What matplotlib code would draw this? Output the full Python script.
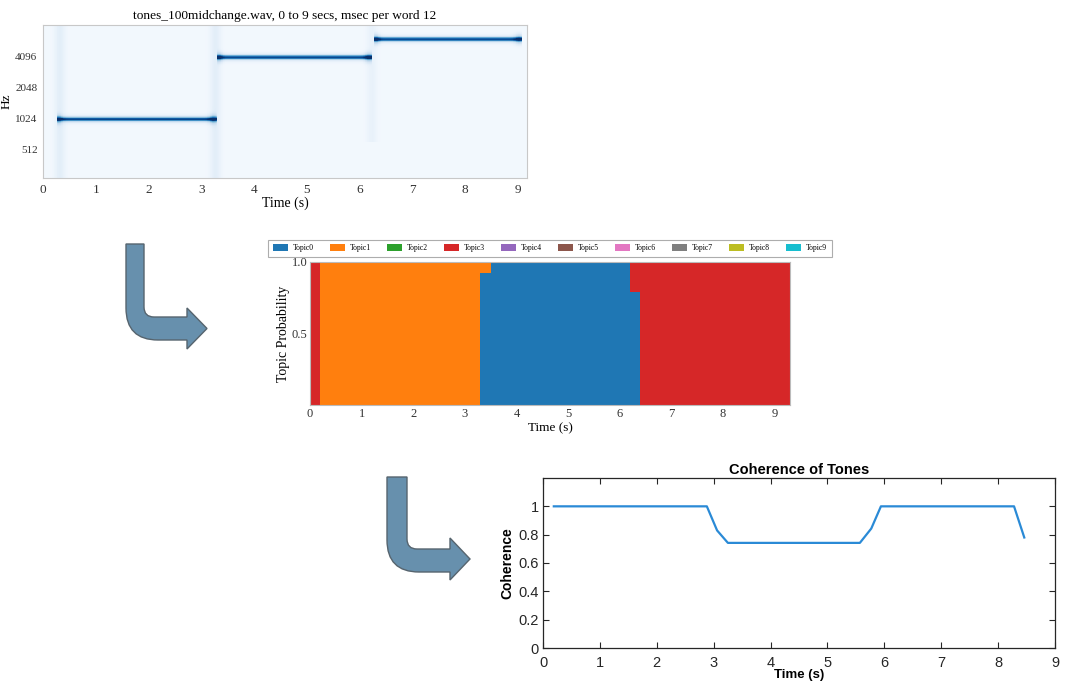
import numpy as np
import matplotlib
matplotlib.use("Agg")
from matplotlib import pyplot as plt
from matplotlib.path import Path
from matplotlib.patches import PathPatch

# ---- spectrogram tones (start s, end s, freq Hz) ----
tone_start = [0.25, 3.30, 6.28]
tone_end = [3.30, 6.25, 9.10]
tone_freq = [1000, 4000, 6000]
# broadband onset smears (time s, lowest freq Hz, strength)
onset_time = [0.32, 3.27, 6.24]
onset_fmin = [270, 270, 600]
onset_level = [0.08, 0.08, 0.05]
spec_yticks = [512, 1024, 2048, 4096]

# ---- topic model output (segment edges, probability per segment) ----
topic_names = ["Topic%d" % i for i in range(10)]
seg_edges = [0.0, 0.2, 3.3, 3.5, 6.2, 6.4, 9.3]
topic_probs = {
    0: [0.0, 0.0, 0.92, 1.0, 0.79, 0.0],
    1: [0.0, 1.0, 0.08, 0.0, 0.0, 0.0],
    3: [1.0, 0.0, 0.0, 0.0, 0.21, 1.0],
}

# ---- coherence curve ----
coh_time = [0.19, 2.88, 3.06, 3.25, 5.57, 5.77, 5.94, 8.28, 8.46]
coh_value = [1.0, 1.0, 0.83, 0.742, 0.742, 0.843, 1.0, 1.0, 0.78]

W, H = 1066, 684
fig = plt.figure(figsize=(W / 100, H / 100), dpi=100)

serif = "Liberation Serif"
sans = "Liberation Sans"

# overlay for arrows in pixel coords
ov = fig.add_axes([0, 0, 1, 1])
ov.set_xlim(0, W)
ov.set_ylim(H, 0)
ov.axis("off")


def bent_arrow(L, R, T, ST, SB, HB, HT, HBo, X, ro, ri):
    ym = (HT + HBo) / 2
    verts = [(L, T), (R, T), (R, ST - ri), (R, ST), (R + ri, ST),
             (HB, ST), (HB, HT), (X, ym), (HB, HBo), (HB, SB),
             (L + ro, SB), (L, SB), (L, SB - ro), (L, T)]
    codes = [Path.MOVETO, Path.LINETO, Path.LINETO, Path.CURVE3, Path.CURVE3,
             Path.LINETO, Path.LINETO, Path.LINETO, Path.LINETO, Path.LINETO,
             Path.LINETO, Path.CURVE3, Path.CURVE3, Path.CLOSEPOLY]
    return PathPatch(Path(verts, codes), facecolor="#6790ad", edgecolor="#56646e", lw=1.0)


ov.add_patch(bent_arrow(126, 144, 244, 317, 340, 187, 308, 349, 207, 32, 10))
ov.add_patch(bent_arrow(387, 407, 477, 549, 572, 450, 538, 580, 470, 32, 10))

# ---- top: spectrogram ----
ax1 = fig.add_axes([43 / W, 1 - 178 / H, 484 / W, 153 / H])
t = np.linspace(0, 9.18, 700)
f = np.logspace(np.log2(268), np.log2(8250), 400, base=2)
T, F = np.meshgrid(t, f)
lf = np.log2(F)
img = np.full(T.shape, 0.025)
for ts, te, fr in zip(tone_start, tone_end, tone_freq):
    inside = (T >= ts) & (T <= te)
    d = lf - np.log2(fr)
    line = 0.75 * np.exp(-(d / 0.06) ** 2) + 0.15 * np.exp(-(d / 0.12) ** 2)
    img += line * inside
    halo = np.exp(-(d / 0.15) ** 2)
    edge = np.exp(-((T - ts - 0.04) / 0.07) ** 2) + np.exp(-((T - te + 0.07) / 0.08) ** 2)
    img += 0.3 * halo * edge * inside
for ot, fm, lv in zip(onset_time, onset_fmin, onset_level):
    img += lv * np.exp(-((T - ot) / 0.1) ** 2) * (F >= fm)
img = np.clip(img, 0, 1)
ax1.pcolormesh(t, f, img, cmap="Blues", vmin=0, vmax=1.0, shading="auto")
ax1.set_yscale("log", base=2)
ax1.set_ylim(268, 8250)
ax1.set_xlim(0, 9.18)
ax1.set_yticks(spec_yticks)
ax1.set_yticklabels([str(v) for v in spec_yticks], family=serif, fontsize=8)
ax1.minorticks_off()
ax1.set_xticks(range(10))
ax1.set_xticklabels([str(v) for v in range(10)], family=serif, fontsize=9.5)
ax1.tick_params(length=0, pad=4, colors="#333333")
for s in ax1.spines.values():
    s.set_color("#c8c8c8")
ax1.set_title("tones_100midchange.wav, 0 to 9 secs, msec per word 12",
              family=serif, fontsize=9.6, pad=4)
ax1.set_xlabel("Time (s)", family=serif, fontsize=10, labelpad=1)
ax1.set_ylabel("Hz", family=serif, fontsize=9.5, labelpad=2)

# ---- middle: topic probabilities ----
ax2 = fig.add_axes([310 / W, 1 - 405 / H, 480 / W, 143 / H])
colors = plt.get_cmap("tab10").colors
base = np.zeros(len(seg_edges))
for k in range(10):
    vals = topic_probs.get(k, [0.0] * (len(seg_edges) - 1))
    v = np.array(vals + [vals[-1]])
    ax2.fill_between(seg_edges, base, base + v, step="post", color=colors[k],
                     lw=0, label=topic_names[k])
    base = base + v
ax2.set_xlim(0, 9.3)
ax2.set_ylim(0, 1.0)
ax2.set_yticks([0.5, 1.0])
ax2.set_yticklabels(["0.5", "1.0"], family=serif, fontsize=9)
ax2.set_xticks(range(10))
ax2.set_xticklabels([str(v) for v in range(10)], family=serif, fontsize=9)
ax2.tick_params(length=0, pad=2, colors="#333333")
for s in ax2.spines.values():
    s.set_color("#bbbbbb")
ax2.set_xlabel("Time (s)", family=serif, fontsize=9.5, labelpad=2)
ax2.set_ylabel("Topic Probability", family=serif, fontsize=10, labelpad=1)
leg = ax2.legend(loc="lower center", bbox_to_anchor=(0.5, 1.01), ncol=10,
                 prop={"family": serif, "size": 5.5}, handlelength=2.0,
                 handleheight=1.0, columnspacing=2.1, handletextpad=0.6,
                 borderpad=0.6, fancybox=False, edgecolor="#999999")
leg.get_frame().set_linewidth(0.8)

# ---- bottom: coherence ----
ax3 = fig.add_axes([543 / W, 1 - 648 / H, 512 / W, 170 / H])
ax3.plot(coh_time, coh_value, color="#2a8ad6", lw=1.6)
ax3.set_xlim(0, 9)
ax3.set_ylim(0, 1.2)
ax3.set_xticks(range(10))
ax3.set_yticks([0, 0.2, 0.4, 0.6, 0.8, 1.0])
ax3.set_yticklabels(["0", "0.2", "0.4", "0.6", "0.8", "1"])
ax3.tick_params(direction="in", top=True, right=True, length=4, width=0.8,
                labelsize=10.5, colors="#262626", pad=3)
ax3.tick_params(axis="x", pad=6)
for lab in ax3.get_xticklabels() + ax3.get_yticklabels():
    lab.set_family(sans)
for s in ax3.spines.values():
    s.set_color("#262626")
    s.set_linewidth(0.9)
ax3.set_title("Coherence of Tones", family=sans, fontsize=10.5, fontweight="bold", pad=3)
ax3.set_xlabel("Time (s)", family=sans, fontsize=9.5, fontweight="bold", labelpad=-1)
ax3.set_ylabel("Coherence", family=sans, fontsize=10, fontweight="bold", labelpad=3)

fig.savefig("out.png", dpi=100)
